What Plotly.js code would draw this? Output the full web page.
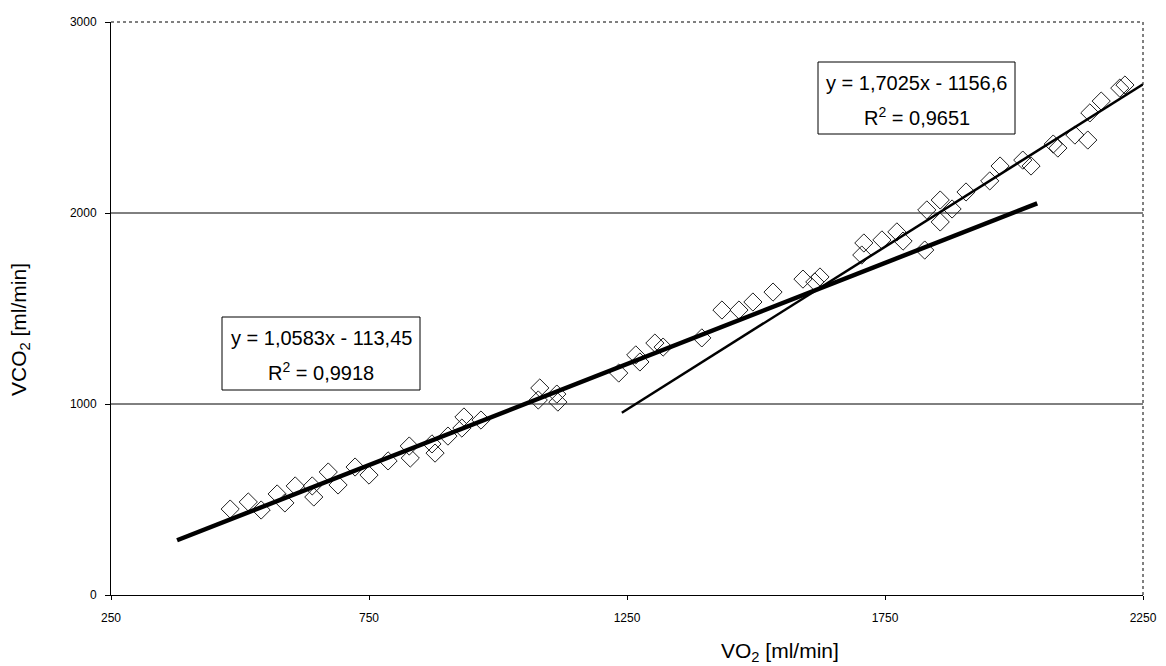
<!DOCTYPE html>
<html>
<head>
<meta charset="utf-8">
<script src="https://cdn.plot.ly/plotly-3.0.1.min.js"></script>
<style>html,body{margin:0;padding:0;background:#fff;}#chart{width:1166px;height:666px;}</style>
</head>
<body>
<div id="chart"></div>
<script>
// Measured points (VO2, VCO2) in ml/min
const vo2 = [481, 516, 541, 572, 587, 607, 640, 643, 671, 690, 723, 750, 787, 828, 830, 872, 878, 903, 930, 934, 967,
  1078, 1081, 1114, 1116, 1234, 1267, 1275, 1304, 1320, 1395, 1434, 1467, 1494, 1533, 1591, 1614, 1624,
  1705, 1709, 1744, 1773, 1785, 1827, 1831, 1857, 1857, 1880, 1907, 1953, 1973, 2017, 2033, 2076, 2085,
  2118, 2143, 2147, 2169, 2205, 2215];
const vco2 = [450, 487, 445, 529, 482, 571, 571, 513, 644, 576, 670, 628, 702, 780, 717, 791, 743, 832, 874, 932, 916,
  1021, 1084, 1052, 1010, 1162, 1257, 1220, 1319, 1298, 1346, 1492, 1492, 1534, 1586, 1654, 1639, 1665,
  1780, 1843, 1859, 1901, 1853, 1806, 2016, 2068, 1953, 2021, 2110, 2168, 2246, 2277, 2246, 2361, 2340,
  2408, 2382, 2524, 2586, 2654, 2670];

// Linear trendlines (slope, intercept, x extent)
const fit1 = {slope: 1.0583, intercept: -113.45, xRange: [378, 2045],
  eq: "y = 1,0583x - 113,45", r2: "R<sup>2</sup> = 0,9918"};
const fit2 = {slope: 1.7025, intercept: -1156.6, xRange: [1240, 2250],
  eq: "y = 1,7025x - 1156,6", r2: "R<sup>2</sup> = 0,9651"};

const xTicks = [250, 750, 1250, 1750, 2250];
const yTicks = [0, 1000, 2000, 3000];
const gridValues = [1000, 2000];

function fitLine(f) {
  return {x: f.xRange, y: f.xRange.map(v => f.slope * v + f.intercept)};
}
const l1 = fitLine(fit1), l2 = fitLine(fit2);

const font = "Liberation Sans, Arial, sans-serif";

// pixel -> paper helpers (plot area: left 111, right 1143, top 22, bottom 595)
const M = {l: 111, r: 23, t: 22, b: 71};
const PW = 1166 - M.l - M.r, PH = 666 - M.t - M.b;
const px = v => (v - M.l) / PW;
const py = v => (666 - M.b - v) / PH;

const traces = [
  {x: vo2, y: vco2, type: 'scatter', mode: 'markers',
   marker: {symbol: 'diamond-open', size: 14, color: '#222', line: {width: 1, color: '#222'}}},
  {x: l1.x, y: l1.y, type: 'scatter', mode: 'lines', line: {color: '#000', width: 4.5}},
  {x: l2.x, y: l2.y, type: 'scatter', mode: 'lines', line: {color: '#000', width: 2.5}}
];

const shapes = gridValues.map(v => ({type: 'line', xref: 'paper', x0: 0, x1: 1, yref: 'y', y0: v, y1: v,
  line: {color: '#000', width: 1}, layer: 'below'}));
shapes.push({type: 'line', xref: 'paper', x0: 0, x1: 1, yref: 'paper', y0: 1, y1: 1,
  line: {color: '#000', width: 1, dash: '3px,3px'}, layer: 'below'});
shapes.push({type: 'line', xref: 'paper', x0: 1, x1: 1, yref: 'paper', y0: 0, y1: 1,
  line: {color: '#000', width: 1, dash: '3px,3px'}, layer: 'below'});

// label boxes: [left, top, right, bottom] in pixels
const boxes = [
  {rect: [222, 317, 420, 390], fit: fit1},
  {rect: [818, 62, 1015, 134], fit: fit2}
];
const annotations = [
  {text: 'VO<sub>2</sub> [ml/min]', xref: 'paper', yref: 'paper', x: px(780), y: py(652),
   xanchor: 'center', yanchor: 'middle', showarrow: false, font: {size: 21, family: font, color: '#000'}},
  {text: 'VCO<sub>2</sub> [ml/min]', xref: 'paper', yref: 'paper', x: px(20), y: py(330),
   xanchor: 'center', yanchor: 'middle', textangle: -90, showarrow: false, font: {size: 21, family: font, color: '#000'}}
];
boxes.forEach(b => {
  const [L, T, R, B] = b.rect;
  shapes.push({type: 'rect', xref: 'paper', yref: 'paper', x0: px(L), x1: px(R), y0: py(B), y1: py(T),
    line: {color: '#000', width: 1}, fillcolor: '#fff', layer: 'above'});
  const cx = (L + R) / 2;
  annotations.push({text: b.fit.eq, xref: 'paper', yref: 'paper', x: px(cx), y: py(T + 21),
    xanchor: 'center', yanchor: 'middle', showarrow: false, font: {size: 20, family: font, color: '#000'}});
  annotations.push({text: b.fit.r2, xref: 'paper', yref: 'paper', x: px(cx), y: py(T + 55),
    xanchor: 'center', yanchor: 'middle', showarrow: false, font: {size: 20, family: font, color: '#000'}});
});

const layout = {
  width: 1166, height: 666,
  margin: M,
  paper_bgcolor: '#fff', plot_bgcolor: '#fff',
  showlegend: false,
  font: {family: font, color: '#000'},
  xaxis: {range: [250, 2250], tickvals: xTicks, ticktext: xTicks.map(String),
    showgrid: false, zeroline: false, showline: true, linecolor: '#000', linewidth: 1,
    ticks: 'outside', ticklen: 4, tickcolor: '#000', ticklabelstandoff: 8,
    tickfont: {size: 12, family: font, color: '#000'}},
  yaxis: {range: [0, 3000], tickvals: yTicks, ticktext: yTicks.map(String),
    showgrid: false, zeroline: false, showline: true, linecolor: '#000', linewidth: 1,
    ticks: 'outside', ticklen: 5, tickcolor: '#000', ticklabelstandoff: 6,
    tickfont: {size: 12, family: font, color: '#000'}},
  shapes: shapes,
  annotations: annotations
};

Plotly.newPlot('chart', traces, layout, {displayModeBar: false, staticPlot: true});
</script>
</body>
</html>
